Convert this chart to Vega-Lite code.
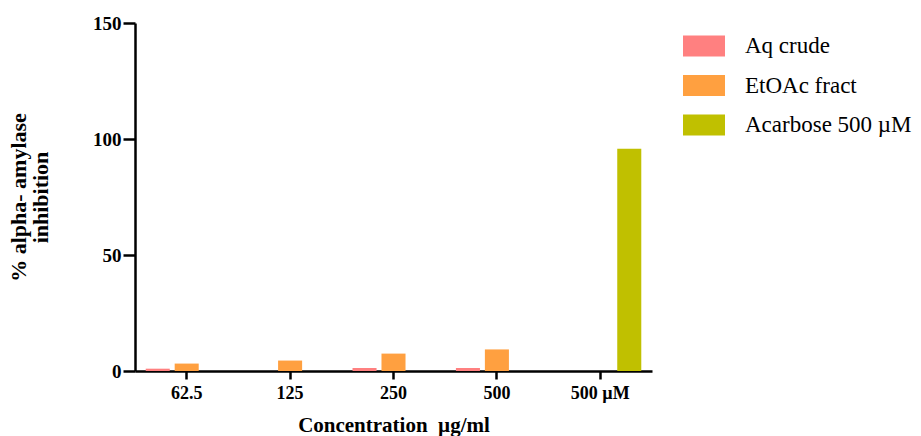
{
  "$schema": "https://vega.github.io/schema/vega-lite/v6.json",
  "autosize": {"type": "none"},
  "padding": {"left": 135, "top": 23, "right": 269, "bottom": 65},
  "width": 517,
  "height": 348,
  "background": "white",
  "config": {
    "view": {"stroke": null},
    "font": "Liberation Serif"
  },
  "data": {
    "values": [
      {"conc": "62.5", "series": "Aq crude", "value": 1.0},
      {"conc": "62.5", "series": "EtOAc fract", "value": 3.2},
      {"conc": "125", "series": "EtOAc fract", "value": 4.5},
      {"conc": "250", "series": "Aq crude", "value": 1.3},
      {"conc": "250", "series": "EtOAc fract", "value": 7.5},
      {"conc": "500", "series": "Aq crude", "value": 1.3},
      {"conc": "500", "series": "EtOAc fract", "value": 9.3},
      {"conc": "500 µM", "series": "Acarbose 500 µM", "value": 95.8}
    ]
  },
  "mark": {"type": "bar"},
  "encoding": {
    "x": {
      "field": "conc",
      "type": "nominal",
      "sort": ["62.5", "125", "250", "500", "500 µM"],
      "scale": {"paddingInner": 0, "paddingOuter": 0},
      "axis": {
        "title": "Concentration\u00a0 µg/ml",
        "titleFont": "Liberation Serif",
        "titleFontSize": 21,
        "titleFontWeight": "bold",
        "titleColor": "black",
        "titlePadding": 12,
        "labelFont": "Liberation Serif",
        "labelFontSize": 18,
        "labelFontWeight": "bold",
        "labelColor": "black",
        "labelAngle": 0,
        "labelPadding": 5,
        "domainColor": "black",
        "domainWidth": 2.5,
        "tickColor": "black",
        "tickWidth": 2.5,
        "tickSize": 8
      }
    },
    "xOffset": {
      "field": "series",
      "type": "nominal",
      "sort": ["Aq crude", "EtOAc fract", "Acarbose 500 µM"],
      "scale": {"paddingInner": 0.17, "paddingOuter": 0.37}
    },
    "y": {
      "field": "value",
      "type": "quantitative",
      "scale": {"domain": [0, 150], "nice": false},
      "axis": {
        "values": [0, 50, 100, 150],
        "title": ["% alpha- amylase", "inhibition"],
        "titleFont": "Liberation Serif",
        "titleFontSize": 22,
        "titleFontWeight": "bold",
        "titleColor": "black",
        "titlePadding": 40,
        "titleLineHeight": 22,
        "labelFont": "Liberation Serif",
        "labelFontSize": 19,
        "labelFontWeight": "bold",
        "labelColor": "black",
        "labelPadding": 2,
        "grid": false,
        "domainColor": "black",
        "domainWidth": 2.5,
        "tickColor": "black",
        "tickWidth": 2.5,
        "tickSize": 12
      }
    },
    "color": {
      "field": "series",
      "type": "nominal",
      "sort": ["Aq crude", "EtOAc fract", "Acarbose 500 µM"],
      "scale": {
        "domain": ["Aq crude", "EtOAc fract", "Acarbose 500 µM"],
        "range": ["#FF8080", "#FFA040", "#C0C000"]
      },
      "legend": {
        "title": null,
        "orient": "none",
        "legendX": 548,
        "legendY": 2,
        "symbolType": "M-1,-0.5H1V0.5H-1Z",
        "symbolSize": 1764,
        "symbolStrokeWidth": 0,
        "symbolOpacity": 1,
        "rowPadding": 6.5,
        "labelFont": "Liberation Serif",
        "labelFontSize": 23,
        "labelColor": "black",
        "labelOffset": 20,
        "labelLimit": 300
      }
    }
  }
}
